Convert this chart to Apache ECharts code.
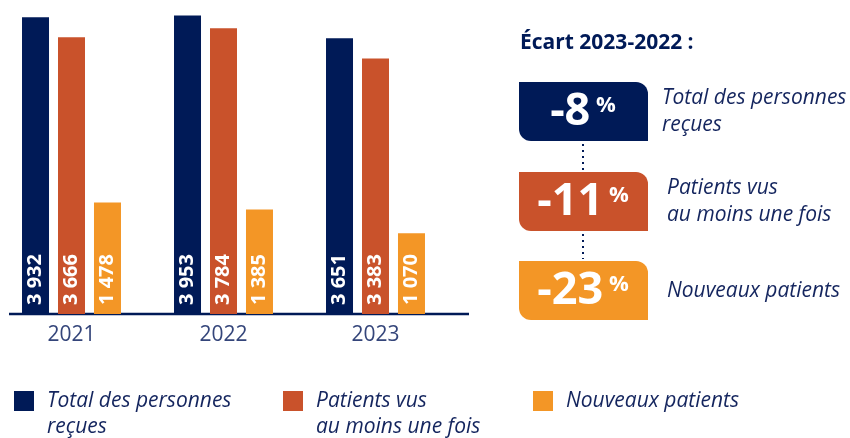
<!DOCTYPE html>
<html>
<head>
<meta charset="utf-8">
<script src="https://cdn.jsdelivr.net/npm/echarts@6/dist/echarts.min.js"></script>
<style>
  html, body { margin: 0; padding: 0; background: #fff; }
  #chart { width: 850px; height: 438px; }
</style>
</head>
<body>
<div id="chart"></div>
<script>
"use strict";
var years = ['2021', '2022', '2023'];
var seriesNames = ['Total des personnes reçues', 'Patients vus au moins une fois', 'Nouveaux patients'];
var legendLabels = ['Total des personnes\nreçues', 'Patients vus\nau moins une fois', 'Nouveaux patients'];
var totalRecues = [3932, 3953, 3651];
var patientsVus = [3666, 3784, 3383];
var nouveauxPatients = [1478, 1385, 1070];
var ecartTitle = 'Écart 2023-2022 :';
var ecartValues = [-8, -11, -23];

var NAVY = '#001a57';
var RED = '#c9522b';
var ORANGE = '#f39626';
var TEXT = '#14255e';
var FONT = '"Open Sans", sans-serif';
var colors = [NAVY, RED, ORANGE];
var dataSets = [totalRecues, patientsVus, nouveauxPatients];

function fmtThousands(v) {
    return String(v).replace(/\B(?=(\d{3})+(?!\d))/g, ' ');
}

var series = [];
for (var i = 0; i < dataSets.length; i++) {
    series.push({
        type: 'bar',
        name: seriesNames[i],
        data: dataSets[i],
        barWidth: 27,
        barGap: '33.3%',
        itemStyle: { color: colors[i] },
        label: {
            show: true,
            position: 'insideBottom',
            distance: 9,
            rotate: 90,
            align: 'left',
            verticalAlign: 'middle',
            color: '#fff',
            fontFamily: FONT,
            fontWeight: 'bold',
            fontSize: 20,
            formatter: function (p) { return fmtThousands(p.value); }
        }
    });
}

// legend: one component per entry; a blank first line keeps the icon level with the first text line
var legendX = [14, 283, 533];
var legends = [];
for (var j = 0; j < seriesNames.length; j++) {
    var twoLines = legendLabels[j].indexOf('\n') >= 0;
    legends.push({
        left: legendX[j],
        top: twoLines ? 362 : 388,
        padding: 0,
        orient: 'horizontal',
        icon: 'rect',
        itemWidth: 20,
        itemHeight: 20,
        selectedMode: false,
        data: [seriesNames[j]],
        formatter: (function (lbl, two) {
            return function () { return two ? ' \n' + lbl : lbl; };
        })(legendLabels[j], twoLines),
        textStyle: {
            color: TEXT,
            fontFamily: FONT,
            fontStyle: 'italic',
            fontSize: 21,
            lineHeight: 26,
            padding: [0, 0, 0, 8]
        }
    });
}

// right panel: boxes with the 2023-2022 change
var boxTop = [82, 172, 261];
var boxTextX = [662, 667, 667];
var graphics = [
    { type: 'line', shape: { x1: 9, y1: 314, x2: 469, y2: 314 }, style: { stroke: NAVY, lineWidth: 2.5 } },
    { type: 'text', left: 520, top: 33, style: { text: ecartTitle, fill: NAVY, font: 'bold 21px ' + FONT } }
];
for (var k = 0; k < ecartValues.length; k++) {
    var y0 = boxTop[k];
    graphics.push({
        type: 'rect',
        shape: { x: 519, y: y0, width: 129, height: 59, r: [0, 12, 0, 12] },
        style: { fill: colors[k] }
    });
    graphics.push({
        type: 'text',
        x: 583, y: y0 + 30,
        style: {
            text: '{n|' + ecartValues[k] + '}{p| %}',
            align: 'center',
            verticalAlign: 'middle',
            rich: {
                n: { fill: '#fff', fontFamily: FONT, fontWeight: 'bold', fontSize: 45, lineHeight: 50 },
                p: { fill: '#fff', fontFamily: FONT, fontWeight: 'bold', fontSize: 22, lineHeight: 26, verticalAlign: 'top', padding: [8, 0, 0, 0] }
            }
        }
    });
    graphics.push({
        type: 'text',
        x: boxTextX[k], y: y0 + 30,
        style: {
            text: legendLabels[k],
            fill: TEXT,
            fontFamily: FONT,
            fontStyle: 'italic',
            fontSize: 21,
            lineHeight: 27,
            verticalAlign: 'middle'
        }
    });
    if (k < ecartValues.length - 1) {
        graphics.push({
            type: 'line',
            shape: { x1: 583, y1: y0 + 62, x2: 583, y2: boxTop[k + 1] - 2 },
            style: { stroke: NAVY, lineWidth: 2, lineDash: [2, 4] }
        });
    }
}

var chart = echarts.init(document.getElementById('chart'));
chart.setOption({
    animation: false,
    grid: { left: -4.5, right: 398.5, top: 12, bottom: 124, outerBoundsMode: 'none' },
    xAxis: {
        type: 'category',
        data: years,
        axisLine: { show: false },
        axisTick: { show: false },
        axisLabel: { color: '#34457a', fontFamily: FONT, fontSize: 21, margin: 11 }
    },
    yAxis: { type: 'value', min: 0, max: 4000, show: false },
    legend: legends,
    series: series,
    graphic: graphics
});
</script>
</body>
</html>
